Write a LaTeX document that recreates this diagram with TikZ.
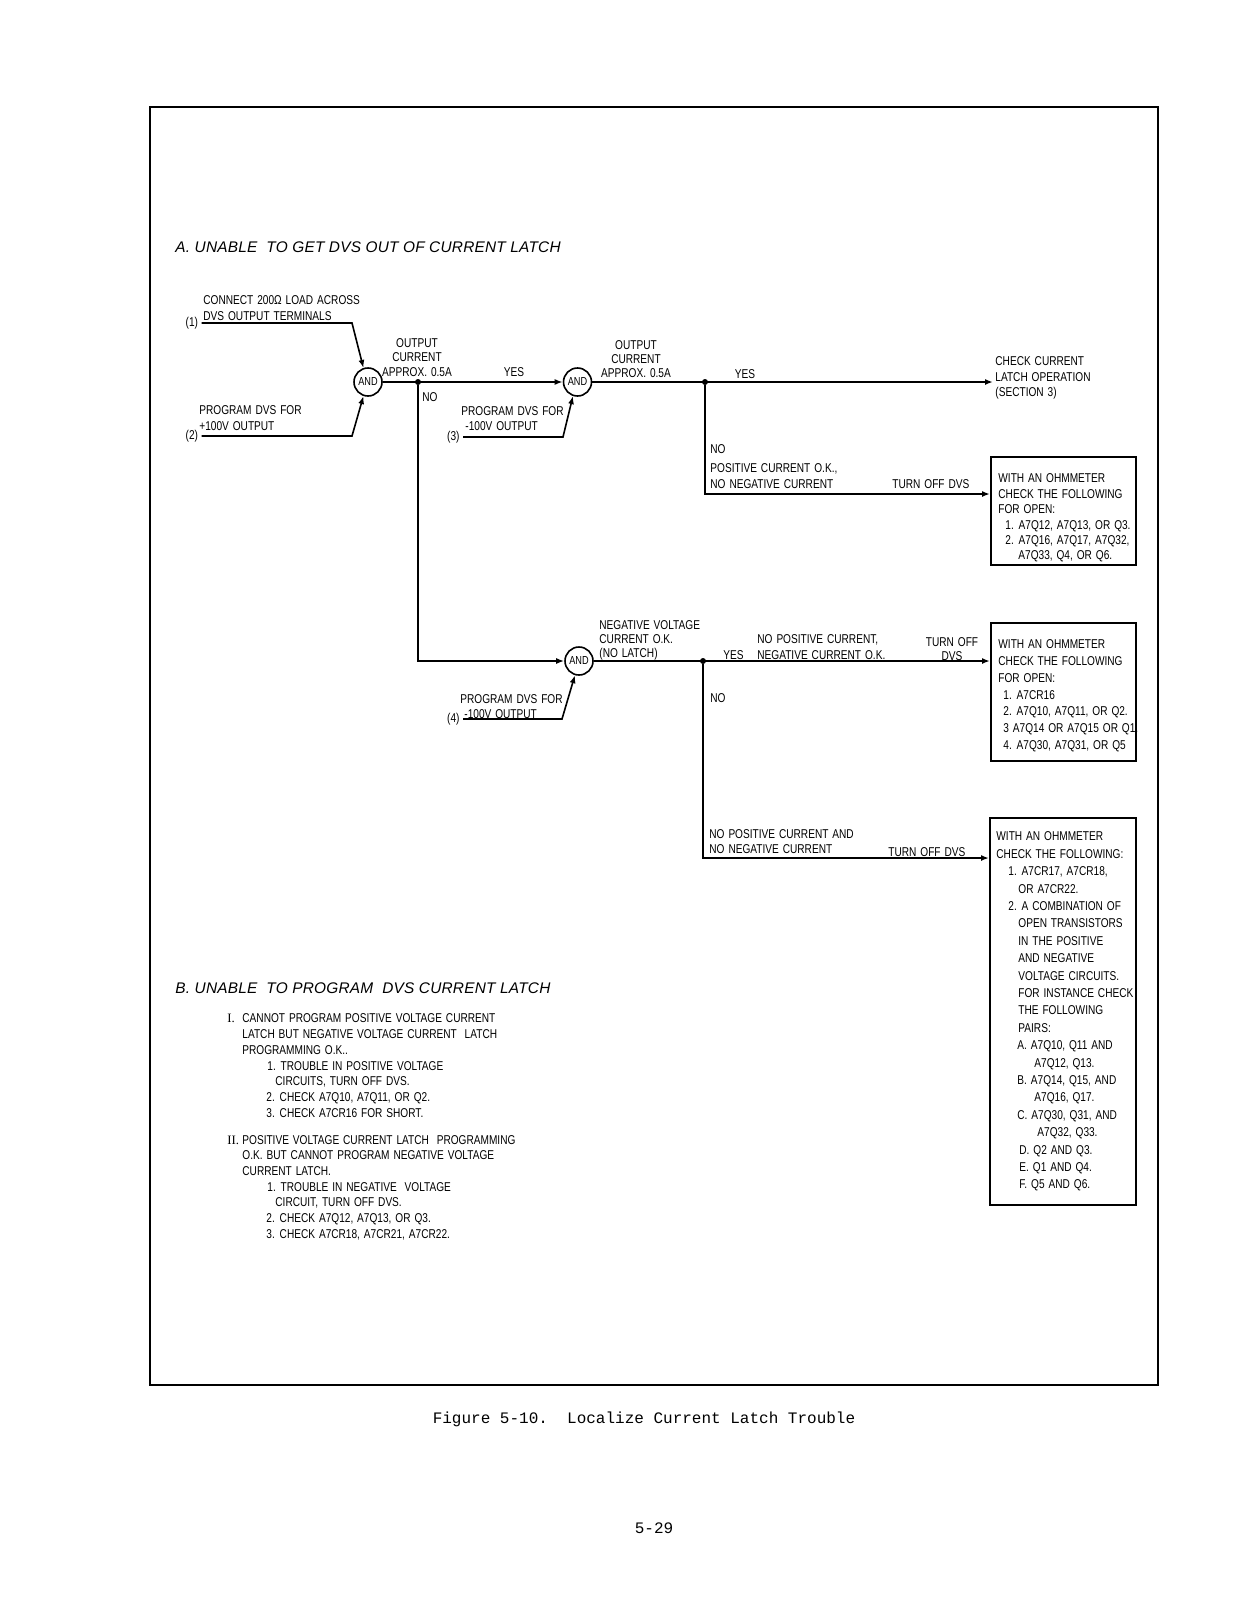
\documentclass[tikz,border=0pt]{standalone}
\usepackage{fontspec}
\newfontfamily\lettr{Liberation Sans}[FakeStretch=0.79, WordSpace=1.4]
\newfontfamily\headfont{Liberation Sans}[LetterSpace=1.5]
\newfontfamily\typefont{Liberation Mono}
\newfontfamily\romfont{Liberation Serif}
\usetikzlibrary{arrows.meta}

\begin{document}
\begin{tikzpicture}[x=0.5pt, y=-0.5pt,
        lbl/.style={font=\lettr\fontsize{6.4}{#1}\selectfont, inner sep=0pt, align=left, anchor=north west},
        lbl/.default=7.7pt,
        word/.style={font=\lettr\fontsize{6.4}{7.7}\selectfont, inner sep=0pt, text height=4.4pt, text depth=0pt},
        head/.style={font=\headfont\itshape\fontsize{7.7}{9}\selectfont, inner sep=0pt, text height=5.3pt, text depth=0pt, anchor=west},
        pnum/.style={font=\lettr\fontsize{6.4}{7.7}\selectfont, inner sep=1.5pt, anchor=east},
        gate/.style={circle, draw, line width=0.8pt, minimum size=14pt, inner sep=0pt, font=\lettr\fontsize{5.8}{7}\selectfont},
        jn/.style={circle, fill, inner sep=0pt, minimum size=3pt},
        chk/.style={draw, line width=1pt, inner sep=0pt, anchor=north west, minimum width=72.5pt},
        arr/.style={line width=0.8pt, -{Latex[length=4pt, width=3pt]}}]

        \useasboundingbox (0,0) rectangle (1237,1600);

        % frame
        \draw[line width=1.2pt] (150,107) rectangle (1158,1385);

        \node[head] (hA) at (175,247) {A. UNABLE \ TO GET DVS OUT OF CURRENT LATCH};

        % gates
        \node[gate] at (368,382)  (and1) {AND};
        \node[gate] at (577.5,382)  (and2) {AND};
        \node[gate] at (579,661)  (and3) {AND};

        % inputs
        \node[lbl=7.75pt] at (203,295.6) (in1) {CONNECT 200Ω LOAD ACROSS\\DVS OUTPUT TERMINALS};
        \node[pnum] at (201.5,323) (p1) {(1)};
        \coordinate (k1) at (352,323);
        \node[lbl=7.6pt] at (199,405.6) (in2) {PROGRAM DVS FOR\\+100V OUTPUT};
        \node[pnum] at (201.5,436) (p2) {(2)};
        \coordinate (k2) at (352,436);
        \node[lbl=7.5pt] at (461,406) (in3) {PROGRAM DVS FOR\\\hspace*{2pt}-100V OUTPUT};
        \node[pnum] at (463,437) (p3) {(3)};
        \coordinate (k3) at (563,437);
        \node[lbl=7.25pt] at (460,694.6) (in4) {PROGRAM DVS FOR\\\hspace*{2pt}-100V OUTPUT};
        \node[pnum] at (463,719) (p4) {(4)};
        \coordinate (k4) at (562,719);

        \draw[arr] (p1.east) -- (k1) -- (and1.108);
        \draw[arr] (p2.east) -- (k2) -- (and1.252);
        \draw[arr] (p3.east) -- (k3) -- (and2.252);
        \draw[arr] (p4.east) -- (k4) -- (and3.254);

        % first test
        \node[lbl=7.2pt, align=center, anchor=north] at (417,338) (st1) {OUTPUT\\CURRENT\\APPROX. 0.5A};
        \node[word] at (514,372.5) (y1) {YES};
        \node[word, anchor=west] at (422,397) (n1) {NO};
        \node[jn] at (418,382) (d1) {};
        \draw[arr] (and1) -- (and2);
        \draw[arr] (d1) |- (and3);

        % second test
        \node[lbl=6.8pt, align=center, anchor=north] at (636,340.6) (st2) {OUTPUT\\CURRENT\\APPROX. 0.5A};
        \node[word] at (745,374) (y2) {YES};
        \node[lbl=7.75pt] at (995,356.6) (latch) {CHECK CURRENT\\LATCH OPERATION\\(SECTION 3)};
        \node[jn] at (705,382) (d2) {};
        \draw[arr, shorten >=1pt] (and2) -- (and2 -| latch.west);

        \node[word, anchor=west] at (710,449) (n2) {NO};
        \node[lbl=8pt] at (710,463.6) (t1) {POSITIVE CURRENT O.K.,\\NO NEGATIVE CURRENT};
        \node[word, anchor=west] at (892,484) (o1) {TURN OFF DVS};
        \node[chk, minimum height=54pt] at (990,456) (box1) {};
        \node[lbl=7.7pt] at (998,473.6) (ohm1) {WITH AN OHMMETER\\CHECK THE FOLLOWING\\FOR OPEN:\\
            \hspace*{3.5pt}1. A7Q12, A7Q13, OR Q3.\\
            \hspace*{3.5pt}2. A7Q16, A7Q17, A7Q32,\\
            \hspace*{10pt}A7Q33, Q4, OR Q6.};
        \coordinate (e1) at (990,494);
        \draw[arr] (d2) |- (e1);

        % third test
        \node[lbl=7pt] at (599,620) (st3) {NEGATIVE VOLTAGE\\CURRENT O.K.\\(NO LATCH)};
        \node[word] at (733.5,654.6) (y3) {YES};
        \node[lbl=8.25pt] at (757,634) (t2) {NO POSITIVE CURRENT,\\NEGATIVE CURRENT O.K.};
        \node[lbl=7pt, align=center, anchor=north] at (952,637.6) (o2) {TURN OFF\\DVS};
        \node[jn] at (703,661) (d3) {};
        \node[chk, minimum height=69pt] at (990,622) (box2) {};
        \node[lbl=8.35pt] at (998,639.6) (ohm2) {WITH AN OHMMETER\\CHECK THE FOLLOWING\\FOR OPEN:\\
            \hspace*{2.5pt}1. A7CR16\\
            \hspace*{2.5pt}2. A7Q10, A7Q11, OR Q2.\\
            \hspace*{2.5pt}3 A7Q14 OR A7Q15 OR Q1.\\
            \hspace*{2.5pt}4. A7Q30, A7Q31, OR Q5};
        \coordinate (e2) at (990,661);
        \draw[arr] (and3) -- (e2);

        \node[word, anchor=west] at (710,698) (n3) {NO};
        \node[lbl=7.5pt] at (709,829.6) (t3) {NO POSITIVE CURRENT AND\\NO NEGATIVE CURRENT};
        \node[word, anchor=west] at (888,852) (o3) {TURN OFF DVS};
        \node[chk, minimum width=73pt, minimum height=193.5pt] at (989,817) (box3) {};
        \node[lbl=8.7pt] at (996,831.6) (ohm3) {WITH AN OHMMETER\\CHECK THE FOLLOWING:\\
            \hspace*{6pt}1. A7CR17, A7CR18,\\
            \hspace*{11pt}OR A7CR22.\\
            \hspace*{6pt}2. A COMBINATION OF\\
            \hspace*{11pt}OPEN TRANSISTORS\\
            \hspace*{11pt}IN THE POSITIVE\\
            \hspace*{11pt}AND NEGATIVE\\
            \hspace*{11pt}VOLTAGE CIRCUITS.\\
            \hspace*{11pt}FOR INSTANCE CHECK\\
            \hspace*{11pt}THE FOLLOWING\\
            \hspace*{11pt}PAIRS:\\
            \hspace*{10.5pt}A. A7Q10, Q11 AND\\
            \hspace*{19pt}A7Q12, Q13.\\
            \hspace*{10.5pt}B. A7Q14, Q15, AND\\
            \hspace*{19pt}A7Q16, Q17.\\
            \hspace*{10.5pt}C. A7Q30, Q31, AND\\
            \hspace*{20.5pt}A7Q32, Q33.\\
            \hspace*{11.5pt}D. Q2 AND Q3.\\
            \hspace*{11.5pt}E. Q1 AND Q4.\\
            \hspace*{11.5pt}F. Q5 AND Q6.};
        \coordinate (e3) at (989,858);
        \draw[arr] (d3) |- (e3);

        % part B
        \node[head] (hB) at (175,988) {B. UNABLE \ TO PROGRAM \ DVS CURRENT LATCH};
        \node[lbl=7.85pt] at (227,1013.6) (listB) {\makebox[7.5pt][l]{\romfont I.}CANNOT PROGRAM POSITIVE VOLTAGE CURRENT\\
            \hspace*{7.5pt}LATCH BUT NEGATIVE VOLTAGE CURRENT \ LATCH\\
            \hspace*{7.5pt}PROGRAMMING O.K..\\
            \hspace*{20pt}1. TROUBLE IN POSITIVE VOLTAGE\\
            \hspace*{24pt}CIRCUITS, TURN OFF DVS.\\
            \hspace*{19.5pt}2. CHECK A7Q10, A7Q11, OR Q2.\\
            \hspace*{19.5pt}3. CHECK A7CR16 FOR SHORT.\\[5.6pt]
            \makebox[7.5pt][l]{\romfont II.}POSITIVE VOLTAGE CURRENT LATCH \ PROGRAMMING\\
            \hspace*{7.5pt}O.K. BUT CANNOT PROGRAM NEGATIVE VOLTAGE\\
            \hspace*{7.5pt}CURRENT LATCH.\\
            \hspace*{20pt}1. TROUBLE IN NEGATIVE \ VOLTAGE\\
            \hspace*{24pt}CIRCUIT, TURN OFF DVS.\\
            \hspace*{19.5pt}2. CHECK A7Q12, A7Q13, OR Q3.\\
            \hspace*{19.5pt}3. CHECK A7CR18, A7CR21, A7CR22.};

        % caption and page
        \node[font=\typefont\fontsize{8}{10}\selectfont, inner sep=0pt] at (644,1419) (cap) {Figure 5-10.\ \ Localize Current Latch Trouble};
        \node[font=\typefont\fontsize{8}{10}\selectfont, inner sep=0pt] at (654,1528) (pg) {5-29};

    \end{tikzpicture}
\end{document}
